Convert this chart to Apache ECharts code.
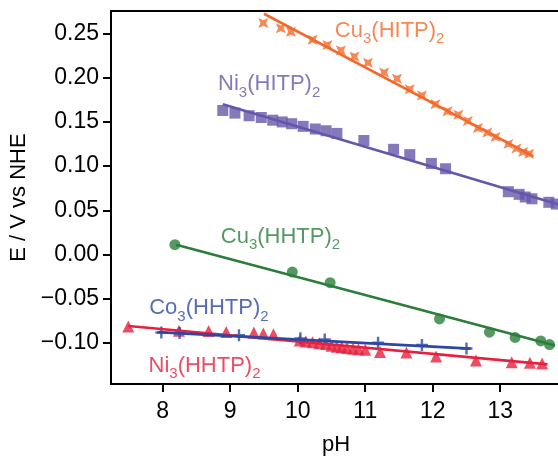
<!DOCTYPE html>
<html><head><meta charset="utf-8">
<script src="https://cdn.jsdelivr.net/npm/echarts@6/dist/echarts.min.js"></script>
<style>html,body{margin:0;padding:0;background:#fff}#c{width:558px;height:456px}</style>
</head><body><div id="c"></div>
<script>
// ---- tick labels ----
const xTicks = [8, 9, 10, 11, 12, 13];
const yTicks = [-0.10, -0.05, 0.00, 0.05, 0.10, 0.15, 0.20, 0.25];

// ---- Cu3(HITP)2 ----
const cuHitpPH = [9.49, 9.75, 9.90, 10.22, 10.44, 10.64, 10.84, 11.04, 11.28, 11.47, 11.66, 11.84, 12.04, 12.22, 12.38, 12.52, 12.67, 12.81, 12.93, 13.12, 13.24, 13.34, 13.43];
const cuHitpE  = [0.262, 0.256, 0.252, 0.243, 0.237, 0.231, 0.224, 0.217, 0.206, 0.199, 0.187, 0.180, 0.170, 0.162, 0.158, 0.151, 0.143, 0.138, 0.133, 0.125, 0.120, 0.116, 0.114];
const cuHitpFitPH = [9.50, 13.49];
const cuHitpFitE  = [0.2725, 0.1110];

// ---- Ni3(HITP)2 ----
const niHitpPH = [8.89, 9.07, 9.28, 9.46, 9.63, 9.77, 9.91, 10.08, 10.26, 10.42, 10.58, 10.98, 11.42, 11.66, 11.98, 12.19, 13.12, 13.28, 13.37, 13.47, 13.72, 13.83];
const niHitpE  = [0.163, 0.160, 0.157, 0.155, 0.152, 0.150, 0.148, 0.145, 0.142, 0.140, 0.137, 0.129, 0.119, 0.113, 0.103, 0.097, 0.071, 0.068, 0.065, 0.063, 0.059, 0.057];
const niHitpFitPH = [8.89, 13.95];
const niHitpFitE  = [0.170, 0.0545];

// ---- Cu3(HHTP)2 ----
const cuHhtpPH = [8.18, 9.92, 10.48, 12.10, 12.84, 13.22, 13.60, 13.73];
const cuHhtpE  = [0.011, -0.020, -0.032, -0.073, -0.088, -0.094, -0.098, -0.102];
const cuHhtpFitPH = [8.20, 13.81];
const cuHhtpFitE  = [0.011, -0.103];

// ---- Co3(HHTP)2 ----
const coHhtpPH = [7.98, 8.25, 9.13, 10.04, 10.40, 11.19, 11.84, 12.50];
const coHhtpE  = [-0.0885, -0.0890, -0.0915, -0.0950, -0.0962, -0.1000, -0.1025, -0.1065];
const coHhtpFitPH = [7.92, 12.56];
const coHhtpFitE  = [-0.0880, -0.1066];

// ---- Ni3(HHTP)2 ----
const niHhtpPH = [7.49, 8.24, 8.68, 8.94, 9.35, 9.49, 9.64, 10.03, 10.12, 10.22, 10.32, 10.42, 10.50, 10.58, 10.65, 10.73, 10.82, 10.90, 11.00, 11.22, 11.61, 12.05, 12.64, 13.17, 13.44, 13.62];
const niHhtpE  = [-0.0815, -0.0865, -0.0866, -0.0878, -0.0885, -0.0895, -0.0905, -0.0975, -0.0985, -0.0995, -0.1005, -0.1015, -0.1035, -0.1045, -0.1052, -0.1060, -0.1068, -0.1073, -0.1080, -0.1105, -0.1110, -0.1155, -0.1200, -0.1220, -0.1225, -0.1235];
const niHhtpFitPH = [7.49, 13.70];
const niHhtpFitE  = [-0.0810, -0.1245];

// ---- series names (rich text) ----
const names = ['Cu3(HITP)2', 'Ni3(HITP)2', 'Cu3(HHTP)2', 'Co3(HHTP)2', 'Ni3(HHTP)2'];
</script>
<script>
const C = {orange:'#f26a2b', purple:'#6656aa', green:'#2a7e3a', blue:'#2c48a4', red:'#e5213d'};
const FONT = 'Liberation Sans, Arial, Helvetica, sans-serif';
function pairs(xs, ys){ return xs.map((x,i)=>[x, ys[i]]); }
function richName(n){
  const m = n.match(/^([A-Za-z]+)(\d)(\(.*\))(\d)$/);
  return '{m|'+m[1]+'}{s|'+m[2]+'}{m|'+m[3]+'}{s|'+m[4]+'}';
}
const starPath = 'path://M0,0 L5,2.2 L10,0 L7.8,5 L10,10 L5,7.8 L0,10 L2.2,5 Z';
const plusPath = 'path://M4,0 H6 V4 H10 V6 H6 V10 H4 V6 H0 V4 H4 Z';

// annotation anchors (layout, data coords of label's left / middle)
const labelAnchors = [
  {name:names[0], at:[10.55, 0.2535], color:C.orange},
  {name:names[1], at:[8.82, 0.1930], color:C.purple},
  {name:names[2], at:[8.86, 0.0200], color:C.green},
  {name:names[3], at:[7.80, -0.0605], color:C.blue},
  {name:names[4], at:[7.79, -0.1260], color:C.red}
];

function scatter(xs, ys, color, symbol, size){
  return {type:'scatter', data:pairs(xs, ys), symbol, symbolSize:size,
    itemStyle:{color}, z:3, silent:true, animation:false};
}
function fit(xs, ys, color){
  return {type:'line', data:pairs(xs, ys), showSymbol:false, symbol:'none',
    lineStyle:{color, width:2.6}, z:4, silent:true, animation:false};
}
const series = [
  scatter(cuHitpPH, cuHitpE, C.orange, starPath, 10),
  fit(cuHitpFitPH, cuHitpFitE, C.orange),
  scatter(niHitpPH, niHitpE, C.purple, 'rect', 11),
  fit(niHitpFitPH, niHitpFitE, C.purple),
  scatter(cuHhtpPH, cuHhtpE, C.green, 'circle', 11),
  fit(cuHhtpFitPH, cuHhtpFitE, C.green),
  scatter(niHhtpPH, niHhtpE, C.red, 'triangle', 12),
  fit(niHhtpFitPH, niHhtpFitE, C.red),
  scatter(coHhtpPH, coHhtpE, C.blue, plusPath, 12),
  fit(coHhtpFitPH, coHhtpFitE, C.blue)
];
labelAnchors.forEach(a => {
  series.push({type:'scatter', data:[a.at], symbolSize:0, silent:true, animation:false, z:5,
    label:{show:true, position:'right', distance:0, formatter:richName(a.name),
      color:a.color, fontFamily:FONT,
      rich:{
        m:{fontSize:22, lineHeight:32, color:a.color, fontFamily:FONT},
        s:{fontSize:15, lineHeight:32, verticalAlign:'bottom', color:a.color, fontFamily:FONT}
      }}});
});

const axisText = {color:'#000', fontSize:23, fontFamily:FONT};
const option = {
  animation:false,
  backgroundColor:'#fff',
  grid:{left:111, top:11, right:-3, bottom:72, outerBoundsMode:'none', containLabel:false,
    show:true, borderColor:'#000', borderWidth:2, backgroundColor:'transparent'},
  xAxis:{type:'value', min:7.234, max:13.9,
    name:'pH', nameLocation:'middle', nameGap:50, nameTextStyle:{...axisText, fontSize:22},
    axisLine:{onZero:false, lineStyle:{color:'#000', width:2}},
    axisTick:{customValues:xTicks, length:8, lineStyle:{color:'#000', width:2}},
    axisLabel:{customValues:xTicks, margin:16, ...axisText},
    splitLine:{show:false}},
  yAxis:{type:'value', min:-0.1467, max:0.2756,
    name:'E / V vs NHE', nameLocation:'middle', nameGap:68, nameTextStyle:{...axisText, fontSize:22},
    axisLine:{show:true, onZero:false, lineStyle:{color:'#000', width:2}},
    axisTick:{show:true, customValues:yTicks, length:8, lineStyle:{color:'#000', width:2}},
    axisLabel:{customValues:yTicks, margin:12, ...axisText,
      formatter:v => (v < 0 ? '\u2212' : '') + Math.abs(v).toFixed(2)},
    splitLine:{show:false}},
  series
};
const chart = echarts.init(document.getElementById('c'), null, {renderer:'canvas'});
chart.setOption(option);
</script>
</body></html>
